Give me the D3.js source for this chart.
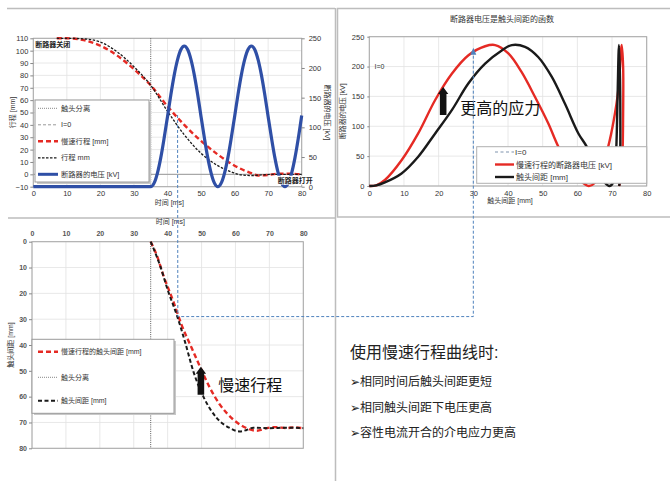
<!DOCTYPE html>
<html><head><meta charset="utf-8">
<script src="https://cdn.jsdelivr.net/npm/d3@7"></script>
<style>
body{margin:0;background:#fff;}
svg{display:block;font-family:Arial,"Liberation Sans","Noto Sans CJK SC",sans-serif;}
</style></head><body>
<svg id="c" width="670" height="481"></svg>
<script>
// ---------- data ----------
const timeTicks = [0,10,20,30,40,50,60,70,80];
const travelTicks = [-10,0,10,20,30,40,50,60,70,80,90,100,110];
const kvTicks = [0,50,100,150,200,250];
const gapTicks = [0,10,20,30,40,50,60,70,80];
const depthTicks = [0,10,20,30,40,50,60,70,80];

// top-left: travel vs time [ms, mm]
const slowTravel = [[7,110],[10,110],[15,108.5],[20,104],[25,96],[30,85],[35,72],[40,55],[45,40],[50,27],[55,16],[60,7],[63,3],[65,1],[67,-1],[70,-0.5],[73,0.5],[76,0.5],[80,0]];
const normalTravel = [[7,110],[10,110],[15,109.5],[20,107],[25,99],[30,87],[35,72],[40,51],[45,32],[50,17],[55,7],[58,3],[60,1],[62,-0.5],[65,-1],[68,-0.5],[72,0],[80,0]];
// breaker voltage vs time [ms, kV]
const breakerVoltage = [[0,0],[35,0],[36,6],[37,23],[38,49],[39,82],[40,118],[41,155],[42,188],[43,214],[44,231],[45,237],[46,231],[47,214],[48,188],[49,155],[50,118],[51,82],[52,49],[53,23],[54,6],[55,0],[56,6],[57,23],[58,49],[59,82],[60,118],[61,155],[62,188],[63,214],[64,231],[65,237],[66,231],[67,214],[68,188],[69,155],[70,118],[71,82],[72,49],[73,23],[74,6],[75,0],[76,6],[77,23],[78,49],[79,82],[80,120]];

// top-right: voltage vs contact gap [mm, kV]
const slowGapVoltage = [[0,0],[2,1],[4.5,10],[9.3,43],[14.1,88],[19,144],[23.8,188],[28.6,219],[33.4,234],[36.3,236],[40.1,222],[43.9,191],[47.8,149],[51.6,105],[54.5,66],[58,30],[61,8],[63.3,0],[65,5],[67,30],[68.9,66],[70.5,110],[71.8,160],[72.8,236],[73.2,200],[73.2,120],[73,50],[72.5,10],[72,0]];
const normalGapVoltage = [[0,0],[2,1],[4.5,6],[9.3,21],[14.1,49],[19,88],[23.8,127],[28.6,172],[33.4,205],[38.2,227],[41.1,236],[44.9,233],[48.7,216],[52.6,183],[56.4,138],[60.3,88],[62.7,66],[65.5,30],[68,5],[69.3,0],[70.5,8],[71.2,60],[71.6,150],[72,236],[72.3,180],[72.4,90],[72.3,20],[72.1,0]];

// bottom-left: contact gap vs time [ms, mm]
const slowContactGap = [[35,0],[37,6],[38.7,12.9],[41.7,23.2],[44.1,32.2],[47.1,41.2],[49.5,48.3],[52.5,56.7],[55.4,63.1],[59.4,68.9],[63.3,72.2],[66.3,73.2],[69.2,72.2],[72,71.8],[75,72.2],[77,71.9],[80,72.2]];
const normalContactGap = [[35,0],[37.7,9],[40.2,19.4],[42.7,28.4],[45.1,38.7],[47.6,50.3],[50.5,59.9],[54.5,68.3],[58.4,72.2],[61.3,73.5],[63.3,72.9],[65.3,72],[70,72.2],[75,72],[80,72.2]];

const separationTime = 35;
const markTime = 43, markGap = 29, markGapMm = 30, markKv = 228;

const tlLegend = ["触头分离","I=0","慢速行程 [mm]","行程 mm","断路器的电压 [kV]"];
const trLegend = ["I=0","慢速行程的断路器电压 [kV]","触头间距 [mm]"];
const blLegend = ["慢速行程的触头间距 [mm]","触头分离","触头间距 [mm]"];
const notes = ["使用慢速行程曲线时:","➢相同时间后触头间距更短","➢相同触头间距下电压更高","➢容性电流开合的介电应力更高"];

// ---------- drawing ----------
const svg = d3.select('#c');
const RED = '#e52a24', BLACK = '#1a1a1a', BLUE = '#2f4fa6', CONN = '#4f82bd', GRID = '#e2e2e2', FRAME = '#a6a6a6';

// panel frames
svg.append('line').attr('x1',7).attr('y1',8.5).attr('x2',335).attr('y2',8.5).attr('stroke','#bdbdbd').attr('stroke-width',1.5);
svg.append('line').attr('x1',8).attr('y1',218).attr('x2',335).attr('y2',218).attr('stroke','#bdbdbd').attr('stroke-width',1.5);
svg.append('line').attr('x1',335.5).attr('y1',8).attr('x2',335.5).attr('y2',481).attr('stroke','#bdbdbd').attr('stroke-width',1.5);
svg.append('rect').attr('x',337.5).attr('y',8.5).attr('width',340).attr('height',208.5).attr('fill','none').attr('stroke','#bdbdbd').attr('stroke-width',1.5);

function styleAxis(g, fs){
  g.select('.domain').remove();
  g.selectAll('.tick line').attr('stroke','#888');
  g.selectAll('.tick text').attr('font-size',fs).attr('fill','#333').attr('font-family','Arial,"Liberation Sans",sans-serif');
}
function grid(g, x, y, xt, yt){
  g.selectAll(null).data(xt).join('line').attr('x1',d=>x(d)).attr('x2',d=>x(d)).attr('y1',y.range()[0]).attr('y2',y.range()[1]).attr('stroke',GRID).attr('stroke-width',0.8);
  g.selectAll(null).data(yt).join('line').attr('y1',d=>y(d)).attr('y2',d=>y(d)).attr('x1',x.range()[0]).attr('x2',x.range()[1]).attr('stroke',GRID).attr('stroke-width',0.8);
}
function frame(g, x, y){
  const [xa,xb]=x.range(), [ya,yb]=y.range();
  g.append('rect').attr('x',Math.min(xa,xb)).attr('y',Math.min(ya,yb)).attr('width',Math.abs(xb-xa)).attr('height',Math.abs(yb-ya)).attr('fill','none').attr('stroke',FRAME).attr('stroke-width',1);
}
function blockArrow(g, cx, yBase, yTop){
  const sw=3.3, hw=5.2, hh=7;
  g.append('path').attr('d',`M${cx-sw},${yBase}L${cx-sw},${yTop+hh}L${cx-hw},${yTop+hh}L${cx},${yTop}L${cx+hw},${yTop+hh}L${cx+sw},${yTop+hh}L${cx+sw},${yBase}Z`).attr('fill','#111');
}

// ===== top-left =====
const tl = svg.append('g');
const xTL = d3.scaleLinear().domain([0,80]).range([33.3,301.7]);
const yTL = d3.scaleLinear().domain([-10,110]).range([186.7,38.3]);
const yTLr = d3.scaleLinear().domain([0,250]).range([186.7,38.3]);
grid(tl, xTL, yTL, timeTicks, travelTicks);
tl.append('line').attr('x1',xTL(0)).attr('x2',xTL(80)).attr('y1',yTL(0)).attr('y2',yTL(0)).attr('stroke','#9a9a9a').attr('stroke-width',1);
frame(tl, xTL, yTL);
tl.append('g').attr('transform',`translate(${xTL(0)},0)`).call(d3.axisLeft(yTL).tickValues(travelTicks).tickSize(3).tickPadding(2)).call(g=>styleAxis(g,7.5));
tl.append('g').attr('transform',`translate(${xTL(80)},0)`).call(d3.axisRight(yTLr).tickValues(kvTicks).tickSize(3).tickPadding(4)).call(g=>styleAxis(g,7.5));
tl.append('g').attr('transform',`translate(0,${yTL(-10)})`).call(d3.axisBottom(xTL).tickValues(timeTicks).tickSize(0).tickPadding(4)).call(g=>styleAxis(g,7.5));
tl.append('line').attr('x1',xTL(separationTime)).attr('x2',xTL(separationTime)).attr('y1',yTL(110)).attr('y2',yTL(-10)).attr('stroke','#555').attr('stroke-dasharray','1,1.2').attr('stroke-width',1);
const lineTL = d3.line().x(d=>xTL(d[0])).y(d=>yTL(d[1])).curve(d3.curveMonotoneX);
tl.append('path').attr('d',lineTL(slowTravel)).attr('fill','none').attr('stroke',RED).attr('stroke-width',2.4).attr('stroke-dasharray','5,3');
tl.append('path').attr('d',lineTL(normalTravel)).attr('fill','none').attr('stroke',BLACK).attr('stroke-width',1.3).attr('stroke-dasharray','2.5,1.5');
const lineV = d3.line().x(d=>xTL(d[0])).y(d=>yTLr(d[1])).curve(d3.curveMonotoneX);
tl.append('path').attr('d',lineV(breakerVoltage)).attr('fill','none').attr('stroke',BLUE).attr('stroke-width',3.2);
tl.append('text').attr('x',xTL(0)+2).attr('y',yTL(110)+9).attr('font-size',7).attr('font-weight','bold').attr('fill','#222').text('断路器关闭');
const openX = xTL(80)-24, openY = yTL(-10)-4;
tl.append('rect').attr('x',openX-1).attr('y',openY-7).attr('width',35).attr('height',9).attr('fill','#fff');
tl.append('text').attr('x',openX).attr('y',openY).attr('font-size',7).attr('font-weight','bold').attr('fill','#222').text('断路器打开');
tl.append('text').attr('transform',`translate(15,${(yTL(110)+yTL(-10))/2}) rotate(-90)`).attr('text-anchor','middle').attr('font-size',7).attr('fill','#333').text('行程 [mm]');
tl.append('text').attr('transform',`translate(325,${(yTL(110)+yTL(-10))/2}) rotate(90)`).attr('text-anchor','middle').attr('font-size',7).attr('fill','#333').text('断路器的电压 [kV]');
tl.append('text').attr('x',xTL(35)+4).attr('y',204.5).attr('font-size',7).attr('fill','#333').text('时间 [ms]');
// legend
const lg1 = tl.append('g');
lg1.append('rect').attr('x',37).attr('y',102).attr('width',114).attr('height',82).attr('fill','#c8c8c8');
lg1.append('rect').attr('x',35).attr('y',100).attr('width',114).attr('height',82).attr('fill','#fff').attr('stroke','#9a9a9a').attr('stroke-width',1);
const tlSym = [
  {c:'#888',w:1,d:'1,1'},
  {c:'#999',w:1,d:'3,2'},
  {c:RED,w:2.4,d:'5,3'},
  {c:BLACK,w:1.3,d:'2.5,1.5'},
  {c:BLUE,w:3,d:null}];
tlLegend.forEach((t,i)=>{
  const yy = 108.3 + i*16.5;
  const l = lg1.append('line').attr('x1',38).attr('x2',58).attr('y1',yy).attr('y2',yy).attr('stroke',tlSym[i].c).attr('stroke-width',tlSym[i].w);
  if(tlSym[i].d) l.attr('stroke-dasharray',tlSym[i].d);
  lg1.append('text').attr('x',61).attr('y',yy+2.6).attr('font-size',7.3).attr('fill','#333').text(t);
});

// ===== top-right =====
const tr = svg.append('g');
const xTR = d3.scaleLinear().domain([0,80]).range([369.3,646.7]);
const yTR = d3.scaleLinear().domain([0,250]).range([186,36.7]);
grid(tr, xTR, yTR, gapTicks, kvTicks);
frame(tr, xTR, yTR);
tr.append('g').attr('transform',`translate(${xTR(0)},0)`).call(d3.axisLeft(yTR).tickValues(kvTicks).tickSize(2).tickPadding(3)).call(g=>styleAxis(g,7.5));
tr.append('g').attr('transform',`translate(0,${yTR(0)})`).call(d3.axisBottom(xTR).tickValues(gapTicks).tickSize(0).tickPadding(5)).call(g=>styleAxis(g,7.5));
const lineTR = d3.line().x(d=>xTR(d[0])).y(d=>yTR(d[1])).curve(d3.curveCatmullRom.alpha(0.5));
tr.append('path').attr('d',lineTR(slowGapVoltage)).attr('fill','none').attr('stroke',RED).attr('stroke-width',2.4);
tr.append('path').attr('d',lineTR(normalGapVoltage)).attr('fill','none').attr('stroke',BLACK).attr('stroke-width',2.4);
tr.append('text').attr('x',(xTR(0)+xTR(80))/2-6).attr('y',22).attr('text-anchor','middle').attr('font-size',8).attr('fill','#333').text('断路器电压是触头间距的函数');
tr.append('text').attr('x',(xTR(0)+xTR(80))/2+2).attr('y',203).attr('text-anchor','middle').attr('font-size',7).attr('fill','#333').text('触头间距 [mm]');
tr.append('text').attr('transform',`translate(345,${(yTR(0)+yTR(250))/2}) rotate(-90)`).attr('text-anchor','middle').attr('font-size',7).attr('fill','#333').text('断路器的电压 [kV]');
tr.append('text').attr('x',xTR(1.5)).attr('y',yTR(200)+2.5).attr('font-size',7).attr('fill','#333').text('I=0');
blockArrow(tr, xTR(21.3), yTR(118.7), yTR(165.6));
tr.append('text').attr('x',xTR(26.2)).attr('y',yTR(130)+6).attr('font-size',16).attr('fill','#111').text('更高的应力');
const lg2 = tr.append('g');
lg2.append('rect').attr('x',476.7).attr('y',146.7).attr('width',170).attr('height',36.6).attr('fill','#fff').attr('stroke','#b0b0b0').attr('stroke-width',1);
const trSym = [{c:'#7f93ad',w:1,d:'3,2.5'},{c:RED,w:2.4,d:null},{c:BLACK,w:2.4,d:null}];
trLegend.forEach((t,i)=>{
  const yy = 152 + i*12.5;
  const l = lg2.append('line').attr('x1',495).attr('x2',514).attr('y1',yy).attr('y2',yy).attr('stroke',trSym[i].c).attr('stroke-width',trSym[i].w);
  if(trSym[i].d) l.attr('stroke-dasharray',trSym[i].d);
  lg2.append('text').attr('x',i===0?515:516).attr('y',yy+3).attr('font-size',8).attr('fill','#333').text(t);
});

// ===== bottom-left =====
const bl = svg.append('g');
const xBL = d3.scaleLinear().domain([0,80]).range([32,303.3]);
const yBL = d3.scaleLinear().domain([0,80]).range([241.7,448.3]);
grid(bl, xBL, yBL, timeTicks, depthTicks);
frame(bl, xBL, yBL);
bl.append('g').attr('transform',`translate(${xBL(0)},0)`).call(d3.axisLeft(yBL).tickValues(depthTicks).tickSize(3).tickPadding(2)).call(g=>styleAxis(g,7));
bl.append('g').attr('transform',`translate(0,${yBL(0)})`).call(d3.axisTop(xBL).tickValues(timeTicks).tickSize(0).tickPadding(6)).call(g=>styleAxis(g,7));
bl.selectAll('.tick text').attr('font-weight','bold').attr('fill','#555');
bl.append('line').attr('x1',xBL(separationTime)).attr('x2',xBL(separationTime)).attr('y1',yBL(0)).attr('y2',yBL(80)).attr('stroke','#555').attr('stroke-dasharray','1,1.2').attr('stroke-width',1);
const lineBL = d3.line().x(d=>xBL(d[0])).y(d=>yBL(d[1])).curve(d3.curveMonotoneX);
bl.append('path').attr('d',lineBL(slowContactGap)).attr('fill','none').attr('stroke',RED).attr('stroke-width',2.4).attr('stroke-dasharray','5,3');
bl.append('path').attr('d',lineBL(normalContactGap)).attr('fill','none').attr('stroke',BLACK).attr('stroke-width',2).attr('stroke-dasharray','4,2.5');
bl.append('text').attr('x',xBL(35)+5).attr('y',224).attr('font-size',7).attr('fill','#333').text('时间 [ms]');
bl.append('text').attr('transform',`translate(13,345) rotate(-90)`).attr('text-anchor','middle').attr('font-size',7).attr('fill','#333').text('触头间距 [mm]');
blockArrow(bl, xBL(49.8), yBL(59.3), yBL(48.4));
bl.append('text').attr('x',xBL(54.9)).attr('y',yBL(55.5)+6).attr('font-size',16).attr('fill','#111').text('慢速行程');
const lg3 = bl.append('g');
lg3.append('rect').attr('x',34).attr('y',341).attr('width',142).attr('height',74).attr('fill','#c8c8c8');
lg3.append('rect').attr('x',32).attr('y',339.3).attr('width',142).attr('height',74).attr('fill','#fff').attr('stroke','#9a9a9a').attr('stroke-width',1);
const blSym = [{c:RED,w:2.4,d:'5,3'},{c:'#888',w:1,d:'1,1'},{c:BLACK,w:2,d:'4,2.5'}];
blLegend.forEach((t,i)=>{
  const yy = [351.7,377.3,400.7][i];
  lg3.append('line').attr('x1',38).attr('x2',58).attr('y1',yy).attr('y2',yy).attr('stroke',blSym[i].c).attr('stroke-width',blSym[i].w).attr('stroke-dasharray',blSym[i].d);
  lg3.append('text').attr('x',61).attr('y',yy+2.5).attr('font-size',7).attr('fill','#333').text(t);
});

// ===== connectors =====
const conn = svg.append('g').attr('fill','none').attr('stroke',CONN).attr('stroke-width',1).attr('stroke-dasharray','3,2');
conn.append('path').attr('d',`M${xTL(markTime)},${yTL(48)}L${xBL(markTime)},${yBL(markGap)}L${xTR(markGapMm)},${yBL(markGap)}L${xTR(markGapMm)},${yTR(markKv)+4}`);
svg.append('path').attr('d',`M${xTR(markGapMm)-3},${yTR(markKv)+5}L${xTR(markGapMm)},${yTR(markKv)-2}L${xTR(markGapMm)+3},${yTR(markKv)+5}Z`).attr('fill',CONN);

// ===== notes =====
const nt = svg.append('g').attr('fill','#222');
nt.append('text').attr('x',350).attr('y',358).attr('font-size',16).text(notes[0]);
[1,2,3].forEach((k,i)=>{
  nt.append('text').attr('x',350).attr('y',386 + i*25.5).attr('font-size',12).text(notes[k]);
});
</script></body></html>
